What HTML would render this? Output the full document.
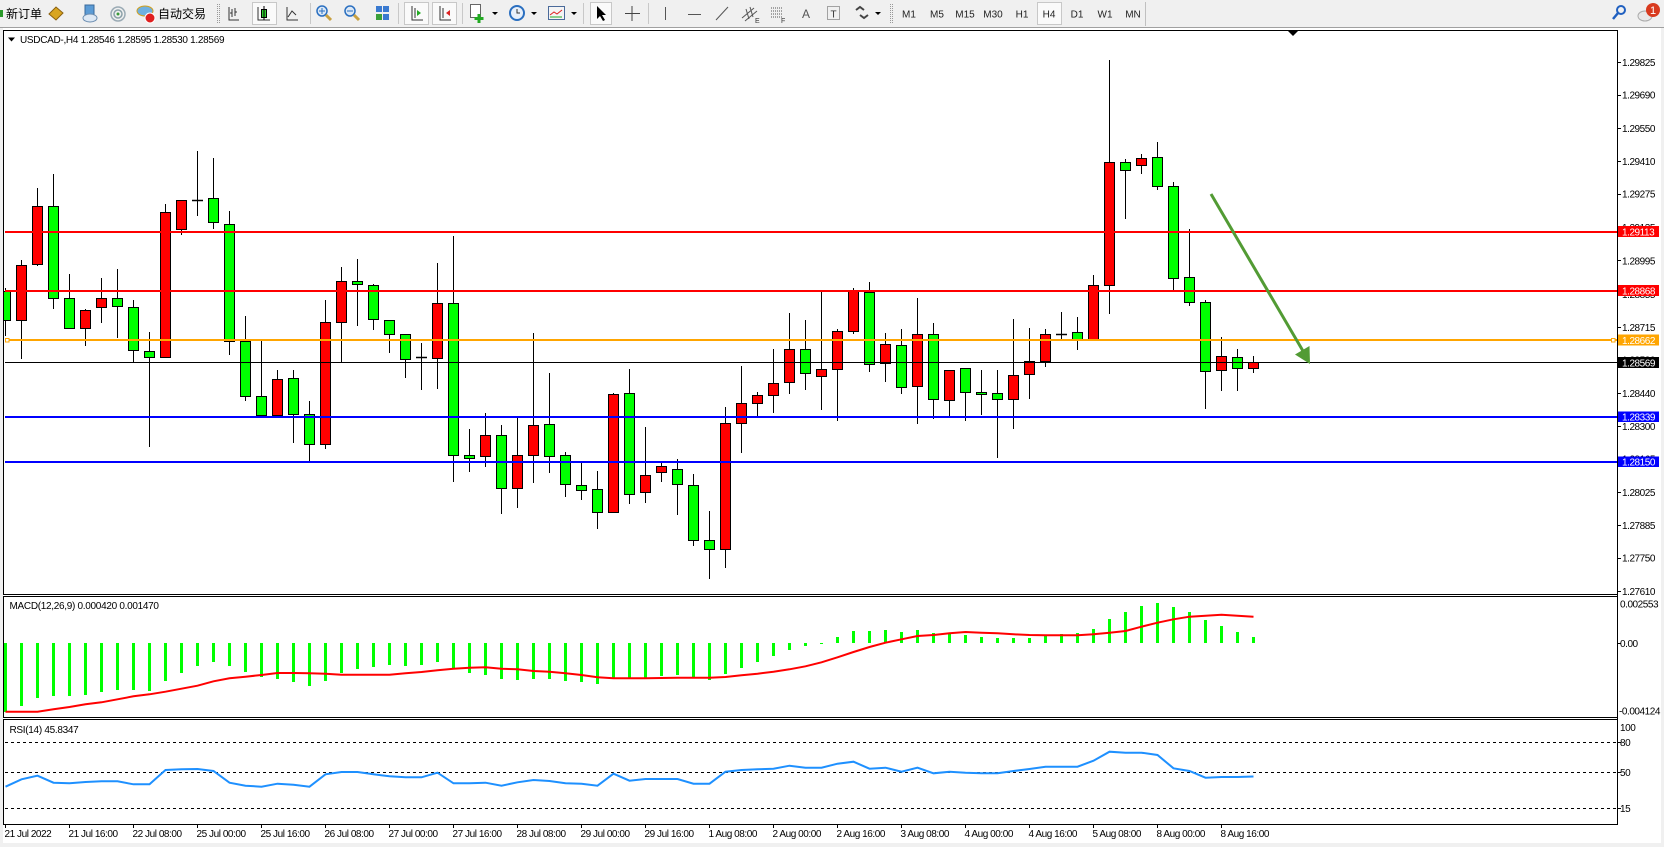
<!DOCTYPE html>
<html><head><meta charset="utf-8">
<style>
html,body{margin:0;padding:0;background:#f0f0f0;width:1664px;height:847px;overflow:hidden;}
svg{display:block;}
text{font-family:"Liberation Sans","Noto Sans CJK SC",sans-serif;}
.ax{font-size:10px;letter-spacing:-0.45px;fill:#000;}
.wt{font-size:10px;letter-spacing:-0.45px;fill:#fff;}
.tf{font-size:10px;fill:#222;text-anchor:middle;}
</style></head><body>
<svg id="s" width="1664" height="847" viewBox="0 0 1664 847" xmlns="http://www.w3.org/2000/svg">
<defs>
<clipPath id="cm"><rect x="4" y="31" width="1613" height="563"/></clipPath>
<clipPath id="cd"><rect x="4" y="597" width="1613" height="120"/></clipPath>
<clipPath id="cr"><rect x="4" y="720" width="1613" height="104"/></clipPath>
</defs>
<rect width="1664" height="847" fill="#f0f0f0"/>
<!-- toolbar -->
<rect x="0" y="0" width="1664" height="27" fill="#f0f0f0"/>
<line x1="0" y1="27.5" x2="1664" y2="27.5" stroke="#a0a0a0"/>
<rect x="0" y="10" width="3" height="7" fill="#2a9a2a"/>
<text x="6" y="18" font-size="12" fill="#000">新订单</text>
<polygon points="49,14 56,7 63,13 56,20" fill="#d9a520" stroke="#8a6010"/>
<rect x="85" y="5" width="9" height="10" fill="#5b9bd5" stroke="#3a6a9a"/>
<ellipse cx="90" cy="18" rx="7" ry="4" fill="#dde8f4" stroke="#6a8cb0"/>
<circle cx="118" cy="14" r="7" fill="none" stroke="#9aaab4" stroke-width="1.5"/>
<circle cx="118" cy="14" r="4" fill="none" stroke="#8aa0a8" stroke-width="1.5"/>
<circle cx="118" cy="14" r="1.5" fill="#3a9a3a"/>
<ellipse cx="145" cy="11" rx="8" ry="5" fill="#6fb0e0" stroke="#d0a020"/>
<circle cx="150" cy="18" r="5" fill="#e02020" stroke="#fff"/>
<text x="158" y="18" font-size="12" fill="#000">自动交易</text>
<line x1="217.5" y1="4" x2="217.5" y2="24" stroke="#999" stroke-dasharray="1,1"/>
<line x1="219.5" y1="4" x2="219.5" y2="24" stroke="#999" stroke-dasharray="1,1"/>
<path d="M229 7v13h10M232 9v8M232 13h-2M235 8v8M235 12h2" stroke="#333" fill="none"/>
<rect x="252.5" y="2.5" width="24" height="22" fill="#fafafa" stroke="#c8c8c8"/>
<path d="M258 7v13h12" stroke="#333" fill="none"/>
<rect x="261.5" y="9.5" width="5" height="8" fill="#2ecc2e" stroke="#000"/>
<line x1="264" y1="6" x2="264" y2="20" stroke="#000"/>
<path d="M287 7v13h11M288 17l4-6 4 4" stroke="#333" fill="none"/>
<line x1="310.5" y1="3" x2="310.5" y2="24" stroke="#c8c8c8"/>
<circle cx="322" cy="11" r="5" fill="#dbe8f6" stroke="#2a6fc0" stroke-width="1.5"/>
<path d="M319 11h6M322 8v6" stroke="#2a6fc0"/>
<line x1="326" y1="15" x2="331" y2="20" stroke="#c8a040" stroke-width="3"/>
<circle cx="350" cy="11" r="5" fill="#dbe8f6" stroke="#2a6fc0" stroke-width="1.5"/>
<path d="M347 11h6" stroke="#2a6fc0"/>
<line x1="354" y1="15" x2="359" y2="20" stroke="#c8a040" stroke-width="3"/>
<rect x="376" y="6" width="6" height="6" fill="#3a7ad0"/><rect x="383" y="6" width="6" height="6" fill="#3a7ad0"/>
<rect x="376" y="14" width="6" height="6" fill="#3aa03a"/><rect x="383" y="14" width="6" height="6" fill="#3a7ad0"/>
<line x1="398.5" y1="3" x2="398.5" y2="24" stroke="#c8c8c8"/>
<rect x="404.5" y="2.5" width="24" height="22" fill="#fafafa" stroke="#c8c8c8"/>
<path d="M412 6v14h11M415 8v10" stroke="#333" fill="none"/><polygon points="417,10 421,13 417,16" fill="#2a2"/>
<rect x="432.5" y="2.5" width="24" height="22" fill="#fafafa" stroke="#c8c8c8"/>
<path d="M440 6v14h11M443 8v10" stroke="#333" fill="none"/><polygon points="450,10 446,13 450,16" fill="#d22"/>
<line x1="462.5" y1="3" x2="462.5" y2="24" stroke="#c8c8c8"/>
<rect x="470.5" y="4.5" width="10" height="13" fill="#fff" stroke="#666"/>
<path d="M479 14v9M474.5 18.5h9" stroke="#2a2" stroke-width="3"/>
<polygon points="492,12 498,12 495,15" fill="#000"/>
<circle cx="517" cy="13" r="7" fill="#e8f0fa" stroke="#2a6fc0" stroke-width="2"/>
<path d="M517 9v4h3" stroke="#333" fill="none"/>
<polygon points="531,12 537,12 534,15" fill="#000"/>
<rect x="548.5" y="6.5" width="16" height="13" fill="#f4f4f4" stroke="#4a6a9a"/>
<path d="M550 15l4-3 3 2 5-4" stroke="#d22" fill="none"/><path d="M550 17h12" stroke="#2a2"/>
<polygon points="571,12 577,12 574,15" fill="#000"/>
<line x1="583.5" y1="3" x2="583.5" y2="24" stroke="#c8c8c8"/>
<rect x="590.5" y="2.5" width="21" height="22" fill="#fafafa" stroke="#c8c8c8"/>
<polygon points="597,6 597,19 600,16 603,21 605,20 602,15 606,15" fill="#000"/>
<path d="M632 6v15M625 13.5h15" stroke="#444"/>
<line x1="648.5" y1="3" x2="648.5" y2="24" stroke="#c8c8c8"/>
<line x1="665.5" y1="7" x2="665.5" y2="20" stroke="#555"/>
<line x1="688" y1="14.5" x2="701" y2="14.5" stroke="#555"/>
<line x1="716" y1="20" x2="728" y2="7" stroke="#555"/>
<path d="M742 18l12-10M745 21l12-10M746 9l3 10M750 7l3 10" stroke="#555" fill="none"/>
<text x="755" y="23" font-size="7" fill="#333">E</text>
<path d="M771 8h12M771 11h12M771 14h12M771 17h12" stroke="#555" stroke-dasharray="1,1"/>
<text x="781" y="23" font-size="7" fill="#333">F</text>
<text x="806" y="18" font-size="12" fill="#555" text-anchor="middle">A</text>
<rect x="827.5" y="6.5" width="12" height="13" fill="none" stroke="#555" stroke-dasharray="1,1"/>
<text x="833.5" y="17.5" font-size="10" fill="#333" text-anchor="middle">T</text>
<path d="M856 10l4-3 4 3M860 15l4 3 4-3" stroke="#444" fill="none" stroke-width="2"/>
<polygon points="875,12 881,12 878,15" fill="#000"/>
<line x1="890.5" y1="4" x2="890.5" y2="24" stroke="#999" stroke-dasharray="1,1"/>
<line x1="892.5" y1="4" x2="892.5" y2="24" stroke="#999" stroke-dasharray="1,1"/>
<text class="tf" x="909" y="17.5">M1</text>
<text class="tf" x="937" y="17.5">M5</text>
<text class="tf" x="965" y="17.5">M15</text>
<text class="tf" x="993" y="17.5">M30</text>
<text class="tf" x="1022" y="17.5">H1</text>
<rect x="1037.5" y="2.5" width="24" height="22" fill="#fafafa" stroke="#c8c8c8"/>
<text class="tf" x="1049" y="17.5">H4</text>
<text class="tf" x="1077" y="17.5">D1</text>
<text class="tf" x="1105" y="17.5">W1</text>
<text class="tf" x="1133" y="17.5">MN</text>
<line x1="1145.5" y1="2" x2="1145.5" y2="26" stroke="#c0c0c0"/>
<circle cx="1621" cy="10" r="4" fill="none" stroke="#2060c0" stroke-width="2"/>
<line x1="1618" y1="13" x2="1613" y2="19" stroke="#2060c0" stroke-width="2.5"/>
<ellipse cx="1645" cy="16" rx="7" ry="5" fill="#e8e8e8" stroke="#aaa"/>
<circle cx="1653" cy="10" r="7" fill="#d83a1e"/>
<text x="1653" y="14" font-size="11" fill="#fff" text-anchor="middle">1</text>

<!-- window area -->
<rect x="3" y="28" width="1658" height="815" fill="#fff"/>
<!-- panel borders -->
<rect x="3.5" y="30.5" width="1614" height="564" fill="none" stroke="#000"/>
<rect x="3.5" y="596.5" width="1614" height="121" fill="none" stroke="#000"/>
<rect x="3.5" y="719.5" width="1614" height="105" fill="none" stroke="#000"/>

<!-- header -->
<polygon points="8,37.5 15,37.5 11.5,41.5" fill="#000"/>
<text x="20" y="43" font-size="10" letter-spacing="-0.3" fill="#000">USDCAD-,H4  1.28546 1.28595 1.28530 1.28569</text>
<polygon points="1288,31 1298,31 1293,36" fill="#000"/>

<g id="candles" clip-path="url(#cm)"></g>
<g id="hl" clip-path="url(#cm)">
<line x1="5" y1="362.5" x2="1617" y2="362.5" stroke="#000"/>
<rect x="5" y="231" width="1612" height="2" fill="#ff0000"/>
<rect x="5" y="290" width="1612" height="2" fill="#ff0000"/>
<rect x="5" y="339" width="1612" height="2" fill="#ffa500"/>
<rect x="5" y="416" width="1612" height="2" fill="#0000ff"/>
<rect x="5" y="461" width="1612" height="2" fill="#0000ff"/>
<rect x="5.5" y="338.5" width="3.5" height="3.5" fill="#fff" stroke="#ffa500"/>
<rect x="1611.5" y="338.5" width="3.5" height="3.5" fill="#fff" stroke="#ffa500"/>
<line x1="1211" y1="194" x2="1303" y2="351" stroke="#529b34" stroke-width="3"/>
<polygon points="1310,364 1295,354.5 1309.5,346" fill="#529b34"/>
</g>

<!-- price axis -->
<line x1="1617.5" y1="30" x2="1617.5" y2="825" stroke="#000"/>
<g stroke="#000">
<line x1="1617" y1="62.5" x2="1621" y2="62.5"/><line x1="1617" y1="95.5" x2="1621" y2="95.5"/>
<line x1="1617" y1="128.5" x2="1621" y2="128.5"/><line x1="1617" y1="161.5" x2="1621" y2="161.5"/>
<line x1="1617" y1="194.5" x2="1621" y2="194.5"/><line x1="1617" y1="227.5" x2="1621" y2="227.5"/>
<line x1="1617" y1="260.5" x2="1621" y2="260.5"/><line x1="1617" y1="294.5" x2="1621" y2="294.5"/>
<line x1="1617" y1="327.5" x2="1621" y2="327.5"/><line x1="1617" y1="393.5" x2="1621" y2="393.5"/>
<line x1="1617" y1="426.5" x2="1621" y2="426.5"/><line x1="1617" y1="492.5" x2="1621" y2="492.5"/>
<line x1="1617" y1="525.5" x2="1621" y2="525.5"/><line x1="1617" y1="558.5" x2="1621" y2="558.5"/>
<line x1="1617" y1="591.5" x2="1621" y2="591.5"/>
<line x1="1617" y1="643.5" x2="1621" y2="643.5"/>
<line x1="1617" y1="742.5" x2="1621" y2="742.5"/><line x1="1617" y1="772.5" x2="1621" y2="772.5"/>
<line x1="1617" y1="808.5" x2="1621" y2="808.5"/>
</g>
<text class="ax" x="1622" y="66">1.29825</text>
<text class="ax" x="1622" y="98.5">1.29690</text>
<text class="ax" x="1622" y="132">1.29550</text>
<text class="ax" x="1622" y="165">1.29410</text>
<text class="ax" x="1622" y="197.5">1.29275</text>
<text class="ax" x="1622" y="231">1.29135</text>
<text class="ax" x="1622" y="264.5">1.28995</text>
<text class="ax" x="1622" y="298">1.28855</text>
<text class="ax" x="1622" y="331">1.28715</text>
<text class="ax" x="1622" y="363.5">1.28580</text>
<text class="ax" x="1622" y="397">1.28440</text>
<text class="ax" x="1622" y="430">1.28300</text>
<text class="ax" x="1622" y="462.5">1.28165</text>
<text class="ax" x="1622" y="496">1.28025</text>
<text class="ax" x="1622" y="529">1.27885</text>
<text class="ax" x="1622" y="561.5">1.27750</text>
<text class="ax" x="1622" y="595">1.27610</text>
<rect x="1618" y="226" width="41" height="11" fill="#ff0000"/>
<text class="wt" x="1622" y="235.3">1.29113</text>
<rect x="1618" y="285" width="41" height="11" fill="#ff0000"/>
<text class="wt" x="1622" y="294.3">1.28868</text>
<rect x="1618" y="334.5" width="41" height="11" fill="#ffa500"/>
<text class="wt" x="1622" y="343.8">1.28662</text>
<rect x="1618" y="357" width="41" height="11" fill="#000"/>
<text class="wt" x="1622" y="366.3">1.28569</text>
<rect x="1618" y="411.5" width="41" height="10.5" fill="#0000ff"/>
<text class="wt" x="1622" y="420.5">1.28339</text>
<rect x="1618" y="456.5" width="41" height="10.5" fill="#0000ff"/>
<text class="wt" x="1622" y="465.5">1.28150</text>

<!-- MACD -->
<g id="macd" clip-path="url(#cd)"></g>
<text x="9.5" y="609" font-size="10" letter-spacing="-0.3" fill="#000">MACD(12,26,9) 0.000420 0.001470</text>
<text class="ax" x="1620" y="607.5">0.002553</text>
<text class="ax" x="1620" y="647">0.00</text>
<text class="ax" x="1619" y="714.5">-0.004124</text>

<!-- RSI -->
<g clip-path="url(#cr)" stroke="#000" stroke-dasharray="3,3">
<line x1="5" y1="742.5" x2="1617" y2="742.5"/>
<line x1="5" y1="772.5" x2="1617" y2="772.5"/>
<line x1="5" y1="808.5" x2="1617" y2="808.5"/>
</g>
<g id="rsi" clip-path="url(#cr)"></g>
<text x="9.5" y="733" font-size="10" letter-spacing="-0.3" fill="#000">RSI(14) 45.8347</text>
<text class="ax" x="1620" y="731">100</text>
<text class="ax" x="1620" y="746">80</text>
<text class="ax" x="1620" y="776">50</text>
<text class="ax" x="1620" y="812">15</text>

<!-- time axis -->
<g id="tt" stroke="#000"></g>
<text class="ax" x="4.5" y="837">21 Jul 2022</text>
<text class="ax" x="68.5" y="837">21 Jul 16:00</text>
<text class="ax" x="132.5" y="837">22 Jul 08:00</text>
<text class="ax" x="196.5" y="837">25 Jul 00:00</text>
<text class="ax" x="260.5" y="837">25 Jul 16:00</text>
<text class="ax" x="324.5" y="837">26 Jul 08:00</text>
<text class="ax" x="388.5" y="837">27 Jul 00:00</text>
<text class="ax" x="452.5" y="837">27 Jul 16:00</text>
<text class="ax" x="516.5" y="837">28 Jul 08:00</text>
<text class="ax" x="580.5" y="837">29 Jul 00:00</text>
<text class="ax" x="644.5" y="837">29 Jul 16:00</text>
<text class="ax" x="708.5" y="837">1 Aug 08:00</text>
<text class="ax" x="772.5" y="837">2 Aug 00:00</text>
<text class="ax" x="836.5" y="837">2 Aug 16:00</text>
<text class="ax" x="900.5" y="837">3 Aug 08:00</text>
<text class="ax" x="964.5" y="837">4 Aug 00:00</text>
<text class="ax" x="1028.5" y="837">4 Aug 16:00</text>
<text class="ax" x="1092.5" y="837">5 Aug 08:00</text>
<text class="ax" x="1156.5" y="837">8 Aug 00:00</text>
<text class="ax" x="1220.5" y="837">8 Aug 16:00</text>
</svg>
<script>
(function(){
var NS='http://www.w3.org/2000/svg';
function el(p,tag,a){var e=document.createElementNS(NS,tag);for(var k in a)e.setAttribute(k,a[k]);p.appendChild(e);return e;}
var C=[[712,718,800,840,'g'],[635,647,800,905,'r'],[435,485,645,648,'r'],[397,485,738,767,'g'],[672,738,822,822,'g'],
[768,771,822,868,'r'],[683,738,763,805,'r'],[658,738,760,847,'g'],[744,763,882,914,'g'],[832,884,900,1146,'g'],
[480,502,900,900,'r'],[468,468,548,563,'r'],[333,467,467,511,'k'],[352,463,530,545,'g'],[498,535,857,893,'g'],
[788,858,1008,1018,'g'],[858,1008,1062,1062,'g'],[938,961,1062,1062,'r'],[938,958,1057,1136,'g'],[1023,1057,1140,1188,'g'],
[745,804,1140,1152,'r'],[652,691,804,911,'r'],[630,691,699,812,'g'],[700,702,797,825,'g'],[800,800,837,888,'g'],
[837,837,907,957,'g'],[861,902,902,990,'k'],[641,751,903,985,'r'],[567,751,1170,1243,'g'],[1098,1172,1178,1215,'g'],
[1056,1115,1173,1201,'r'],[1087,1115,1261,1330,'g'],[1067,1170,1261,1314,'r'],[836,1088,1170,1245,'r'],[946,1085,1173,1219,'g'],
[1163,1170,1252,1284,'g'],[1190,1253,1266,1292,'g'],[1216,1264,1327,1372,'g'],[999,1002,1327,1329,'r'],[935,1000,1277,1303,'g'],
[1095,1225,1274,1300,'r'],[1190,1200,1217,1242,'r'],[1181,1209,1250,1333,'g'],[1224,1253,1404,1418,'g'],[1326,1404,1431,1511,'g'],
[1040,1082,1431,1479,'r'],[927,1027,1082,1163,'r'],[996,1005,1027,1062,'r'],[878,972,1005,1053,'r'],[781,879,969,1000,'r'],
[798,879,944,990,'g'],[720,934,953,1044,'r'],[825,829,934,1075,'r'],[710,718,829,835,'r'],[693,721,920,940,'g'],
[834,865,917,967,'r'],[823,868,983,1000,'g'],[737,837,980,1083,'r'],[806,837,1017,1070,'g'],[936,936,1020,1062,'r'],
[931,931,997,1075,'g'],[938,997,1003,1058,'g'],[938,1000,1017,1176,'g'],[795,950,1017,1097,'r'],[820,912,947,1014,'r'],
[823,837,913,926,'r'],[778,837,837,851,'k'],[792,832,851,880,'g'],[674,702,851,851,'r'],[83,364,703,780,'r'],
[355,364,386,519,'g'],[341,353,372,395,'r'],[308,350,431,438,'g'],[418,430,683,715,'g'],[547,680,748,757,'g'],
[745,749,939,1042,'g'],[845,898,937,992,'r'],[878,901,931,992,'g'],[898,915.5,932,941,'r']];
var Y=function(v){return Math.round(30+v/2.755);};
var g=document.getElementById('candles');
for(var k=0;k<C.length;k++){
  var c=C[k],cx=5+16*k;
  var h=Y(c[0]),t=Y(c[1]),b=Y(c[2]),l=Y(c[3]);
  el(g,'line',{x1:cx+0.5,y1:h,x2:cx+0.5,y2:l+1,stroke:'#000','stroke-width':1});
  if(c[4]==='k'||b-t<1){
    el(g,'line',{x1:cx-5,y1:t+0.5,x2:cx+6,y2:t+0.5,stroke:'#000','stroke-width':1.5});
  } else {
    el(g,'rect',{x:cx-4.5,y:t+0.5,width:10,height:b-t,fill:c[4]==='g'?'#00ff00':'#ff0000',stroke:'#000','stroke-width':1});
  }
}
var M=[365,347,323,318,317,314,305,299,299,302,272,248,227,215,227,245,260,266,275,287,272,250,237,230,225,228,225,215,237,248,255,266,269,266,266,272,275,281,268,
265,265,258,255,262,270,252,234,216,198,180,167,158,140,123,123,120,127,120,130,132,135,141,145,143,144,135,132,130,117,87,67,48,40,52,66,90,108,126,140];
var S=[365,365,365,358,351,343,337,328,319,313,305,296,287,274,265,260,255,249,249,250,251,254,254,254,254,250,246,241,236,233,232,236,238,243,245,250,255,262,
265,265,265,264,263,263,263,261,256,251,245,238,229,217,202,186,171,158,148,138,135,130,126,128,130,133,135,136,136,136,133,128,123,110,98,88,80,77,74,77,80];
var R=[590,568,557,578,580,576,574,574,583,583,540,538,537,543,578,587,590,581,584,590,553,546,546,553,559,562,562,548,580,580,578,587,577,570,573,580,581,587,
551,572,567,567,567,581,581,545,540,538,536,527,533,533,521,515,536,533,545,533,550,545,548,550,550,543,537,530,530,530,512,485,488,488,495,535,543,563,561,561,559.5];
var Z=function(v){return 590+v/3;};
var gm=document.getElementById('macd');
var zero=643;
for(var k=0;k<M.length;k++){
  var cx=5+16*k,y=Math.round(Z(M[k]));
  var top=Math.min(y,zero),hh=Math.max(Math.abs(y-zero),1);
  el(gm,'rect',{x:cx-1,y:top,width:3,height:hh,fill:'#00ff00'});
}
var pts=[];for(var k=0;k<S.length;k++){pts.push((5+16*k+0.5)+','+Z(S[k]).toFixed(1));}
el(gm,'polyline',{points:pts.join(' '),fill:'none',stroke:'#ff0000','stroke-width':2});
var gr=document.getElementById('rsi');
pts=[];for(var k=0;k<R.length;k++){pts.push((5+16*k+0.5)+','+Z(R[k]).toFixed(1));}
el(gr,'polyline',{points:pts.join(' '),fill:'none',stroke:'#1e90ff','stroke-width':2});
var tt=document.getElementById('tt');
for(var k=0;k<=76;k+=4){var x=5+16*k+0.5;el(tt,'line',{x1:x,y1:825,x2:x,y2:828});}
})();
</script>
</body></html>
